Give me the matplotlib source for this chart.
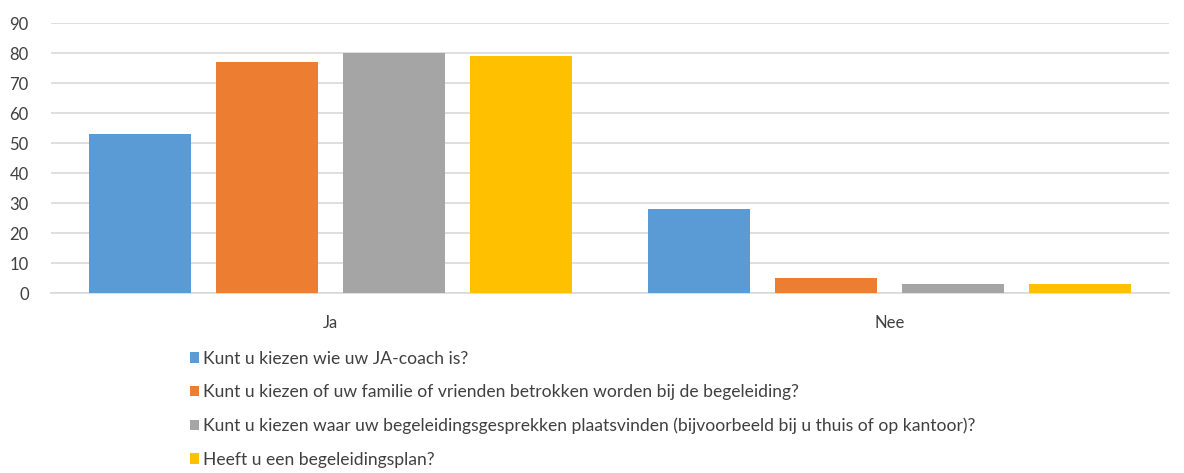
import matplotlib
matplotlib.use("Agg")
import matplotlib.pyplot as plt
from matplotlib.patches import Patch
import numpy as np

categories = ["Ja", "Nee"]
series_labels = [
    "Kunt u kiezen wie uw JA-coach is?",
    "Kunt u kiezen of uw familie of vrienden betrokken worden bij de begeleiding?",
    "Kunt u kiezen waar uw begeleidingsgesprekken plaatsvinden (bijvoorbeeld bij u thuis of op kantoor)?",
    "Heeft u een begeleidingsplan?",
]
series_values = [
    [53, 28],
    [77, 5],
    [80, 3],
    [79, 3],
]
colors = ["#5B9BD5", "#ED7D31", "#A5A5A5", "#FFC000"]

plt.rcParams["font.family"] = ["Lato", "DejaVu Sans"]

fig = plt.figure(figsize=(11.84, 4.73), dpi=100)
ax = fig.add_axes([51 / 1184, 1 - 293 / 473, (1169 - 51) / 1184, (293 - 23) / 473])

x = np.arange(len(categories))
width = 0.182
step = 0.227
for i, (vals, col) in enumerate(zip(series_values, colors)):
    ax.bar(x + (i - 1.5) * step, vals, width, color=col, zorder=3)

ax.set_xlim(-0.5, 1.5)
ax.set_ylim(0, 90)
ax.set_yticks(range(0, 91, 10))
ax.set_xticks(x)
ax.set_xticklabels(categories, fontsize=12, color="#404040")
ax.tick_params(axis="y", labelsize=12, labelcolor="#404040", length=0, pad=16)
ax.tick_params(axis="x", length=0, pad=16)
ax.grid(True, axis="y", color="#D9D9D9", linewidth=1.2, zorder=0)
for side in ["top", "right", "left"]:
    ax.spines[side].set_visible(False)
ax.spines["bottom"].set_color("#D9D9D9")
ax.spines["bottom"].set_linewidth(1.2)

handles = [Patch(facecolor=c, edgecolor="none") for c in colors]
fig.legend(handles, series_labels, loc="upper left",
           bbox_to_anchor=(181 / 1184, 1 - 342 / 473), frameon=False,
           fontsize=12.6, handlelength=0.55, handleheight=0.55, handletextpad=0.2,
           labelspacing=1.0, labelcolor="#404040", borderpad=0)

fig.savefig("out.png", dpi=100)
